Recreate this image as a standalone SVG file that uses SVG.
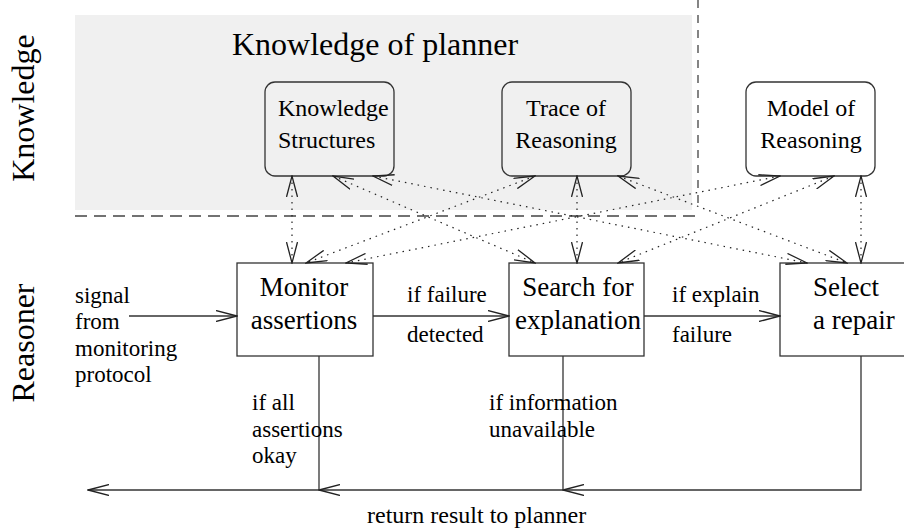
<svg xmlns="http://www.w3.org/2000/svg" width="904" height="529" viewBox="0 0 904 529">
<style>
text{font-family:"Liberation Serif","Times New Roman",serif;fill:#000}
.big{font-size:32px}
.kn{font-size:24px}
.rn{font-size:27px}
.lb{font-size:23px}
.box{fill:none;stroke:#333;stroke-width:1.3}
.solid{fill:none;stroke:#333;stroke-width:1.3}
.dot{fill:none;stroke:#222;stroke-width:1.2;stroke-dasharray:1.5 5}
.dash{fill:none;stroke:#444;stroke-width:1.3}
.mid{text-anchor:middle}
</style>
<defs>
<marker id="ah" viewBox="0 0 22 12" refX="21" refY="6" markerWidth="22" markerHeight="12" markerUnits="userSpaceOnUse" orient="auto-start-reverse">
<path d="M0,0.5 L21,6 L0,11.5" fill="none" stroke="#222" stroke-width="1.3"/>
</marker>
</defs>
<rect x="75" y="15" width="617" height="195" fill="#f0f0f0"/>
<line class="dash" x1="75" y1="216" x2="698" y2="216" stroke-dasharray="12 7"/>
<line class="dash" x1="698" y1="0" x2="698" y2="210" stroke-dasharray="8 7"/>
<text class="big mid" transform="translate(34,108) rotate(-90)">Knowledge</text>
<text class="big mid" transform="translate(34,343) rotate(-90)">Reasoner</text>
<text class="big" x="232" y="55">Knowledge of planner</text>
<g id="knowledge-structures">
<rect class="box" x="265" y="82" width="129" height="94" rx="10"/>
<text class="kn" x="278" y="116">Knowledge</text>
<text class="kn" x="278" y="148">Structures</text>
</g>
<g id="trace-of-reasoning">
<rect class="box" x="502" y="82" width="129" height="94" rx="10"/>
<text class="kn mid" x="566" y="116">Trace of</text>
<text class="kn mid" x="566" y="148">Reasoning</text>
</g>
<g id="model-of-reasoning">
<rect class="box" x="746" y="82" width="129" height="94" rx="10" fill="#fff"/>
<text class="kn mid" x="811" y="116">Model of</text>
<text class="kn mid" x="811" y="148">Reasoning</text>
</g>
<g id="monitor-assertions">
<rect class="box" x="237" y="263" width="136" height="93"/>
<text class="rn mid" x="304" y="296">Monitor</text>
<text class="rn mid" x="304" y="329">assertions</text>
</g>
<g id="search-for-explanation">
<rect class="box" x="509" y="263" width="135" height="93"/>
<text class="rn mid" x="578" y="296">Search for</text>
<text class="rn mid" x="578" y="329">explanation</text>
</g>
<g id="select-a-repair">
<rect class="box" x="780" y="263" width="136" height="93"/>
<text class="rn" x="813" y="296">Select</text>
<text class="rn" x="813" y="329">a repair</text>
</g>
<g id="connectors">
<g marker-start="url(#ah)" marker-end="url(#ah)">
<line class="dot" x1="292" y1="176" x2="292" y2="263"/>
<line class="dot" x1="333" y1="176" x2="535" y2="263"/>
<line class="dot" x1="373" y1="176" x2="807" y2="263"/>
<line class="dot" x1="535" y1="176" x2="306" y2="263"/>
<line class="dot" x1="577" y1="176" x2="577" y2="263"/>
<line class="dot" x1="618" y1="176" x2="847" y2="263"/>
<line class="dot" x1="780" y1="176" x2="346" y2="263"/>
<line class="dot" x1="834" y1="176" x2="618" y2="263"/>
<line class="dot" x1="861" y1="176" x2="861" y2="263"/>
</g>
<g marker-end="url(#ah)">
<line class="solid" x1="129" y1="316" x2="237" y2="316"/>
<line class="solid" x1="373" y1="316" x2="509" y2="316"/>
<line class="solid" x1="644" y1="316" x2="780" y2="316"/>
<polyline class="solid" points="861,356 861,490 563,490"/>
<line class="solid" x1="563" y1="490" x2="319" y2="490"/>
<line class="solid" x1="319" y1="490" x2="88" y2="490"/>
</g>
<line class="solid" x1="319" y1="356" x2="319" y2="490"/>
<line class="solid" x1="563" y1="356" x2="563" y2="490"/>
<text class="lb" x="75" y="303">signal</text>
<text class="lb" x="75" y="329">from</text>
<text class="lb" x="75" y="356">monitoring</text>
<text class="lb" x="75" y="382">protocol</text>
<text class="lb" x="407" y="302">if failure</text>
<text class="lb" x="407" y="342">detected</text>
<text class="lb" x="672" y="302">if explain</text>
<text class="lb" x="672" y="342">failure</text>
<text class="lb" x="252" y="410">if all</text>
<text class="lb" x="252" y="437">assertions</text>
<text class="lb" x="252" y="463">okay</text>
<text class="lb" x="489" y="410">if information</text>
<text class="lb" x="489" y="437">unavailable</text>
<text class="lb" x="367" y="523" style="font-size:24px">return result to planner</text>
</g>
</svg>
